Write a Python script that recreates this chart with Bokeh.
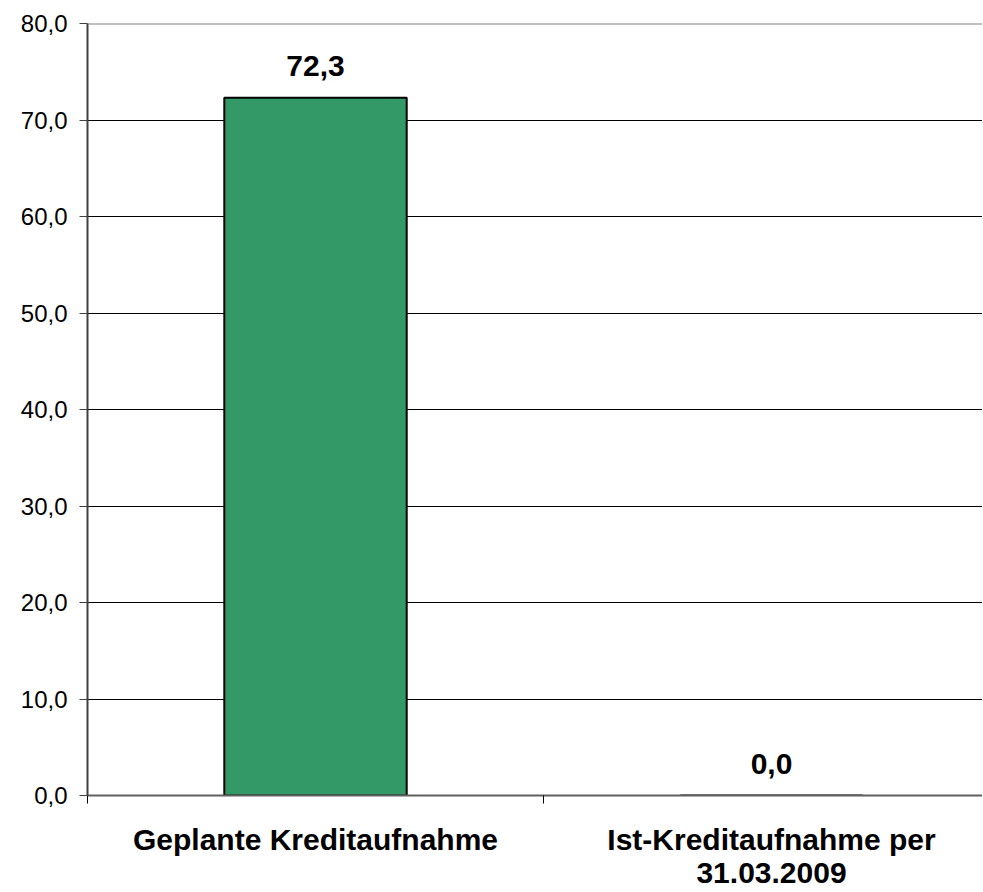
from bokeh.plotting import figure
from bokeh.models import ColumnDataSource, FixedTicker, Span, Range1d
from bokeh.core.properties import value
from bokeh.embed import file_html
from bokeh.resources import INLINE

# ---- data ----
categories = ["Geplante Kreditaufnahme", "Ist-Kreditaufnahme per\n31.03.2009"]
values = [72.3, 0.0]
value_labels = ["72,3", "0,0"]
y_ticks = [0, 10, 20, 30, 40, 50, 60, 70, 80]
y_tick_labels = ["0,0", "10,0", "20,0", "30,0", "40,0", "50,0", "60,0", "70,0", "80,0"]
y_max = 80

FONT = "Liberation Sans"
centers = [i + 0.5 for i in range(len(categories))]
bounds = [i for i in range(len(categories) + 1)]

src = ColumnDataSource(dict(x=centers, top=values, label=value_labels))

W, H = 982, 891
left, top, bottom = 87, 23, 96
frame_w = W - left
x_end = frame_w / 456.0

p = figure(width=W, height=H, output_backend="svg", toolbar_location=None,
           x_range=Range1d(0, x_end), y_range=Range1d(0, y_max),
           min_border_left=left, min_border_top=top, min_border_bottom=bottom,
           min_border_right=0)
p.outline_line_color = None
p.background_fill_color = "white"
p.border_fill_color = "white"

p.vbar(x="x", top="top", width=0.4, bottom=0, source=src,
       fill_color="#339966", line_color="black", line_width=2)

p.text(x="x", y="top", text="label", source=src, text_align="center",
       text_baseline="bottom", y_offset=-22,
       text_font=value(FONT), text_font_style="bold", text_font_size="30px",
       text_color="black")

# top border line at the axis max
p.add_layout(Span(location=y_max, dimension="width", line_color="#808080", line_width=2))

# y axis
p.yaxis.ticker = FixedTicker(ticks=y_ticks)
p.yaxis.major_label_overrides = {t: l for t, l in zip(y_ticks, y_tick_labels)}
p.yaxis.major_label_text_font = FONT
p.yaxis.major_label_text_font_size = "24px"
p.yaxis.major_label_text_color = "black"
p.yaxis.major_tick_out = 8
p.yaxis.major_tick_in = 0
p.yaxis.minor_tick_line_color = None
p.yaxis.major_tick_line_color = "#404040"
p.yaxis.axis_line_color = "#404040"
p.yaxis.axis_line_width = 2
p.yaxis.major_label_standoff = 12

# x axis
p.xaxis.ticker = FixedTicker(ticks=centers, minor_ticks=bounds)
p.xaxis.major_label_overrides = {c: l for c, l in zip(centers, categories)}
p.xaxis.major_label_text_font = FONT
p.xaxis.major_label_text_font_style = "bold"
p.xaxis.major_label_text_font_size = "30px"
p.xaxis.major_label_text_color = "black"
p.xaxis.major_label_text_line_height = 1.0
p.xaxis.major_tick_line_color = None
p.xaxis.major_tick_out = 0
p.xaxis.major_tick_in = 0
p.xaxis.minor_tick_out = 8
p.xaxis.minor_tick_in = 0
p.xaxis.minor_tick_line_color = "black"
p.xaxis.axis_line_color = "#606060"
p.xaxis.axis_line_width = 2
p.xaxis.major_label_standoff = 19

p.xgrid.grid_line_color = None
p.ygrid.ticker = FixedTicker(ticks=y_ticks)
p.ygrid.grid_line_color = "black"
p.ygrid.grid_line_width = 1

open("out.html", "w").write(file_html(p, INLINE))
